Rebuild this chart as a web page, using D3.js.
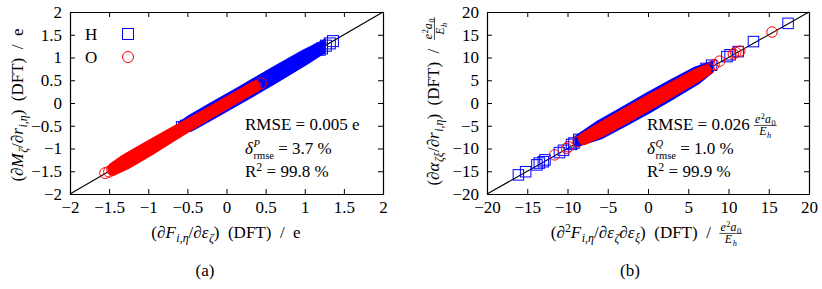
<!DOCTYPE html>
<html>
<head>
<meta charset="utf-8">
<script src="https://cdn.jsdelivr.net/npm/d3@7"></script>
<style>
  body { margin: 0; background: #fff; }
  svg text { font-family: "Liberation Serif", "DejaVu Serif", serif !important; fill: #000; white-space: pre; }
</style>
</head>
<body>
<div id="chart"></div>
<script>
// ---- data ----
const ticksA = [-2, -1.5, -1, -0.5, 0, 0.5, 1, 1.5, 2];
const ticksB = [-20, -15, -10, -5, 0, 5, 10, 15, 20];

// dense cores: [x, yLow, yHigh] of the marker centres
const hBandA = [[-0.55, -0.55, -0.49], [-0.45, -0.5, -0.37], [-0.2, -0.26, -0.12], [0.2, 0.13, 0.27], [0.6, 0.53, 0.67], [1.0, 0.95, 1.06], [1.2, 1.17, 1.23]];
const oBandA = [[-1.45, -1.48, -1.43], [-1.3, -1.36, -1.25], [-1.0, -1.06, -0.95], [-0.7, -0.74, -0.66], [-0.4, -0.42, -0.38], [0.0, -0.01, 0.01], [0.36, 0.35, 0.37]];
// loose points at the tails
const hPtsA = [[1.36, 1.36], [1.32, 1.31], [1.27, 1.26], [1.22, 1.2], [1.19, 1.17], [-0.57, -0.53], [-0.52, -0.5]];
const oPtsA = [[-1.55, -1.54], [-1.5, -1.51], [-1.46, -1.47], [-1.42, -1.43], [0.44, 0.43], [0.38, 0.37], [0.36, 0.35], [-0.42, -0.42], [-0.47, -0.46]];

const hBandB = [[-8.5, -8.3, -7.9], [-6, -6.9, -4.9], [-3, -4.1, -1.9], [0, -1.2, 1.2], [3, 1.9, 4.1], [6, 5.1, 6.9], [7.5, 7.3, 7.8]];
const oBandB = [[-8, -8.1, -7.7], [-6, -6.5, -5.5], [-3, -3.6, -2.4], [0, -0.6, 0.6], [3, 2.5, 3.5], [6, 5.6, 6.4], [7.2, 7.0, 7.3]];
const hPtsB = [[17.4, 17.5], [13.1, 13.5], [11.2, 11.3], [10.2, 10.6], [9.8, 10.2], [7.9, 8.3], [7.2, 7.6], [-16.1, -15.8], [-15.2, -15.1], [-13.8, -13.6], [-13.5, -13.2], [-13.0, -12.9], [-12.8, -12.5], [-11.0, -10.9], [-10.5, -10.4], [-9.5, -9.1], [-9.2, -8.8], [-8.6, -8.0]];
const oPtsB = [[15.4, 15.6], [11.4, 11.4], [10.9, 11.1], [10.6, 10.8], [8.9, 9.2], [8.2, 8.4], [7.6, 7.5], [-11.6, -11.4], [-10.1, -10.0], [-9.9, -9.6], [-8.7, -8.5], [-8.0, -7.8]];

const statsA = ["0.005", "3.7", "99.8"];
const statsB = ["0.026", "1.0", "99.9"];

const W = 822, H = 289;
const FS = 17;
const SERIF = '"Liberation Serif", "DejaVu Serif", serif';
const blue = "#0000ff", red = "#ff0000";

const svg = d3.select("#chart").append("svg")
  .attr("width", W).attr("height", H);
svg.append("rect").attr("width", W).attr("height", H).attr("fill", "#fff");

// ---- tiny math-text helper ----
function piece(g, x, y, s, size) {
  let fs = size, dy = 0;
  if (s.b === "sub") { fs = size * 0.7; dy = size * 0.22; }
  if (s.b === "sup") { fs = size * 0.7; dy = -size * 0.36; }
  if (s.b === "ssub") { fs = size * 0.62; dy = size * 0.3; }
  if (s.b === "ssup") { fs = size * 0.62; dy = -size * 0.44; }
  const t = g.append("text")
    .attr("x", x).attr("y", y + dy)
    .style("font-family", SERIF)
    .style("font-size", fs + "px")
    .style("font-style", s.i ? "italic" : "normal")
    .text(s.t);
  return t.node().getComputedTextLength() + (s.i && !s.b ? 0.6 : 0);
}

function rich(g, x, y, segs, size) {
  let cx = x;
  segs.forEach(s => {
    if (s.frac) {
      const yb = y - 0.27 * size;
      const fs = size * 0.7;
      const gn = g.append("g"), gd = g.append("g");
      const wn = rich(gn, 0, yb - 2.5, s.frac[0], fs);
      const wd = rich(gd, 0, yb + fs * 0.72 + 1, s.frac[1], fs);
      const w = Math.max(wn, wd) + 2;
      gn.attr("transform", `translate(${cx + (w - wn) / 2},0)`);
      gd.attr("transform", `translate(${cx + (w - wd) / 2},0)`);
      g.append("line").attr("x1", cx).attr("x2", cx + w)
        .attr("y1", yb).attr("y2", yb)
        .attr("stroke", "#000").attr("stroke-width", 0.7);
      cx += w + 1;
    } else if (s.stack) {
      const ws = s.stack.map(q => piece(g, cx, y, q, size));
      cx += Math.max(...ws);
    } else {
      cx += piece(g, cx, y, s, size);
    }
  });
  return cx - x;
}

function centred(parent, cx, y, segs, size, rotate) {
  const outer = parent.append("g")
    .attr("transform", rotate ? `translate(${cx},${y}) rotate(-90)` : `translate(${cx},${y})`);
  const inner = outer.append("g");
  const w = rich(inner, 0, 0, segs, size);
  inner.attr("transform", `translate(${-w / 2},0)`);
}

const unitFrac = [[{ t: "e", i: 1 }, { t: "2", b: "sup" }, { t: "a", i: 1 }, { t: "0", b: "sub" }],
                  [{ t: "E", i: 1 }, { t: "h", i: 1, b: "sub" }]];

const fmt = d => (d < 0 ? "\u2212" : "") + Math.abs(d);

// ---- one panel ----
function panel(cfg) {
  const x = d3.scaleLinear().domain(cfg.dom).range([cfg.left, cfg.right]);
  const y = d3.scaleLinear().domain(cfg.dom).range([194, 12]);
  const g = svg.append("g");

  // diagonal
  g.append("line")
    .attr("x1", x(cfg.dom[0])).attr("y1", y(cfg.dom[0]))
    .attr("x2", x(cfg.dom[1])).attr("y2", y(cfg.dom[1]))
    .attr("stroke", "#000").attr("stroke-width", 1.1);

  const area = d3.area().x(d => x(d[0])).y0(d => y(d[1])).y1(d => y(d[2]));

  // H (squares)
  g.append("path").attr("d", area(cfg.hBand))
    .attr("fill", blue).attr("stroke", blue)
    .attr("stroke-width", cfg.ms).attr("stroke-linejoin", "miter");
  g.selectAll(".hp").data(cfg.hPts).enter().append("rect")
    .attr("x", d => x(d[0]) - cfg.ms / 2).attr("y", d => y(d[1]) - cfg.ms / 2)
    .attr("width", cfg.ms).attr("height", cfg.ms)
    .attr("fill", "none").attr("stroke", blue).attr("stroke-width", 1);

  // O (circles)
  g.append("path").attr("d", area(cfg.oBand))
    .attr("fill", red).attr("stroke", red)
    .attr("stroke-width", cfg.ms).attr("stroke-linejoin", "round").attr("stroke-linecap", "round");
  g.selectAll(".op").data(cfg.oPts).enter().append("circle")
    .attr("cx", d => x(d[0])).attr("cy", d => y(d[1])).attr("r", cfg.ms / 2)
    .attr("fill", "none").attr("stroke", red).attr("stroke-width", 1);

  // frame with inward ticks on all sides
  const ax = (a, tr) => g.append("g").attr("transform", tr)
    .call(a.tickValues(cfg.ticks).tickSizeInner(-5).tickSizeOuter(0).tickPadding(8).tickFormat(fmt));
  const b = ax(d3.axisBottom(x), "translate(0,194)");
  const l = ax(d3.axisLeft(y), `translate(${cfg.left},0)`);
  const t = ax(d3.axisTop(x), "translate(0,12)");
  const r = ax(d3.axisRight(y), `translate(${cfg.right},0)`);
  t.selectAll("text").remove();
  r.selectAll("text").remove();
  [b, l, t, r].forEach(a => {
    a.attr("font-family", null);
    a.select(".domain").attr("stroke-width", 1.2);
    a.selectAll(".tick line").attr("stroke-width", 1);
    a.selectAll("text").style("font-family", SERIF).style("font-size", FS + "px").attr("fill", "#000");
  });
  b.selectAll("text").attr("y", 7);

  // axis titles
  centred(svg, cfg.xtX, 238, cfg.xTitle, FS, false);
  centred(svg, cfg.ytX, cfg.ytY, cfg.yTitle, FS, true);

  // stats
  const sx = cfg.statsX;
  rich(svg, sx, 130, [{ t: "RMSE = " + cfg.stats[0] + " " }].concat(cfg.unit), FS);
  rich(svg, sx, 154, [{ t: "δ", i: 1 }, { stack: [{ t: cfg.sym, i: 1, b: "ssup" }, { t: "rmse", b: "ssub" }] }, { t: " = " + cfg.stats[1] + " %" }], FS);
  rich(svg, sx, 177, [{ t: "R" }, { t: "2", b: "sup" }, { t: " = " + cfg.stats[2] + " %" }], FS);

  // caption
  svg.append("text").attr("x", cfg.capX).attr("y", 276)
    .attr("text-anchor", "middle").style("font-family", SERIF).style("font-size", FS + "px").text(cfg.cap);
}

panel({
  dom: [-2, 2], left: 70, right: 383, ticks: ticksA, ms: 11,
  hBand: hBandA, oBand: oBandA, hPts: hPtsA, oPts: oPtsA,
  xtX: 226, ytX: 23, ytY: 105,
  xTitle: [{ t: "(∂" }, { t: "F", i: 1 }, { t: "i,η", i: 1, b: "sub" }, { t: "/∂" }, { t: "ε", i: 1 }, { t: "ζ", i: 1, b: "sub" }, { t: ")  (DFT)  /  e" }],
  yTitle: [{ t: "(∂" }, { t: "M", i: 1 }, { t: "ζ", i: 1, b: "sub" }, { t: "/∂" }, { t: "r", i: 1 }, { t: "i,η", i: 1, b: "sub" }, { t: ")  (DFT)  /  e" }],
  statsX: 245, stats: statsA, unit: [{ t: "e" }], sym: "P",
  capX: 205, cap: "(a)"
});

panel({
  dom: [-20, 20], left: 487, right: 809, ticks: ticksB, ms: 10.5,
  hBand: hBandB, oBand: oBandB, hPts: hPtsB, oPts: oPtsB,
  xtX: 647, ytX: 439, ytY: 101,
  xTitle: [{ t: "(∂" }, { t: "2", b: "sup" }, { t: "F", i: 1 }, { t: "i,η", i: 1, b: "sub" }, { t: "/∂" }, { t: "ε", i: 1 }, { t: "ζ", i: 1, b: "sub" }, { t: "∂" }, { t: "ε", i: 1 }, { t: "ξ", i: 1, b: "sub" }, { t: ")  (DFT)  /  " }, { frac: unitFrac }],
  yTitle: [{ t: "(∂" }, { t: "α", i: 1 }, { t: "ζξ", i: 1, b: "sub" }, { t: "/∂" }, { t: "r", i: 1 }, { t: "i,η", i: 1, b: "sub" }, { t: ")  (DFT)  /  " }, { frac: unitFrac }],
  statsX: 647, stats: statsB, unit: [{ frac: unitFrac }], sym: "Q",
  capX: 630, cap: "(b)"
});

// legend of panel (a)
const legend = svg.append("g");
legend.append("text").attr("x", 85).attr("y", 40).style("font-family", SERIF).style("font-size", FS + "px").text("H");
legend.append("rect").attr("x", 122.5).attr("y", 28.5).attr("width", 11).attr("height", 11)
  .attr("fill", "none").attr("stroke", blue).attr("stroke-width", 1);
legend.append("text").attr("x", 85).attr("y", 63).style("font-family", SERIF).style("font-size", FS + "px").text("O");
legend.append("circle").attr("cx", 128).attr("cy", 57).attr("r", 5.5)
  .attr("fill", "none").attr("stroke", red).attr("stroke-width", 1);
</script>
</body>
</html>
